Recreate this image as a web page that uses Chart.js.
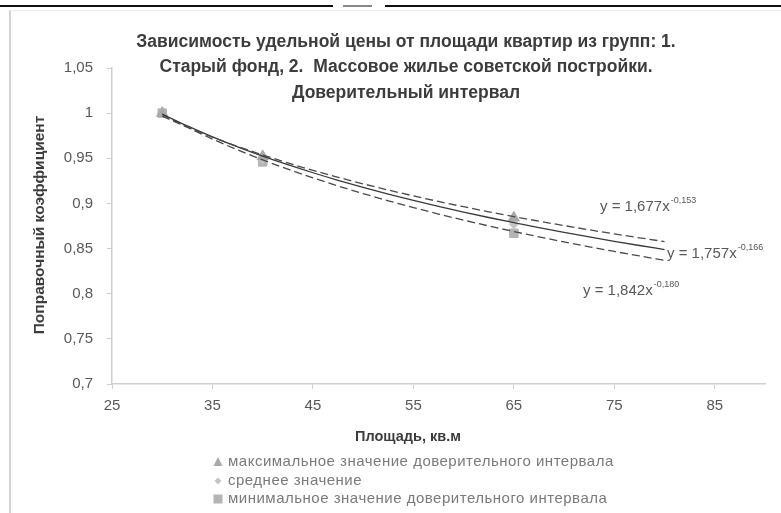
<!DOCTYPE html>
<html lang="ru">
<head>
<meta charset="utf-8">
<title>Поправочный коэффициент</title>
<script src="https://cdn.jsdelivr.net/npm/chart.js@4.4.1/dist/chart.umd.min.js"></script>
<style>
  html, body { margin: 0; padding: 0; background: #fff; }
  #wrap { position: relative; width: 781px; height: 513px; overflow: hidden; background: #fff; }
  #frame { position: absolute; left: 9px; top: 10px; width: 800px; height: 520px;
           border-left: 2px solid #d4d4d4; border-top: 1px solid #ececec; }
  .rule { position: absolute; top: 5px; height: 2px; background: #111; }
  canvas { position: absolute; left: 0; top: 0; }
</style>
</head>
<body>
<div id="wrap">
  <div class="rule" style="left:0;width:333px"></div>
  <div class="rule" style="left:343px;width:29px;background:#888"></div>
  <div class="rule" style="left:385px;width:396px"></div>
  <div id="frame"></div>
  <canvas id="c" width="781" height="513"></canvas>
</div>
<script>
// Площадь квартиры, кв.м
const areas = [30, 40, 65];
// Поправочный коэффициент по группам
const maxValues  = [1.000, 0.952, 0.884];
const meanValues = [1.000, 0.949, 0.877];
const minValues  = [1.000, 0.946, 0.867];

// Степенные линии тренда y = a·x^b (макс., среднее, мин.)
const trendA = [1.677, 1.757, 1.842];
const trendB = [-0.153, -0.166, -0.180];
const trendX = [30, 32.5, 35, 37.5, 40, 42.5, 45, 47.5, 50, 52.5, 55, 57.5, 60, 62.5, 65, 67.5, 70, 72.5, 75, 77.5, 80];

const xTickValues = [25, 35, 45, 55, 65, 75, 85];
const yTickValues = [0.7, 0.75, 0.8, 0.85, 0.9, 0.95, 1, 1.05];

const seriesNames = [
  'максимальное значение доверительного интервала',
  'среднее значение',
  'минимальное значение доверительного интервала'
];
const titleLines = [
  'Зависимость удельной цены от площади квартир из групп: 1.',
  'Старый фонд, 2.  Массовое жилье советской постройки.',
  'Доверительный интервал'
];
const xTitle = 'Площадь, кв.м';
const yTitle = 'Поправочный коэффициент';

const FONT = '"Liberation Sans", Arial, sans-serif';
const comma = v => String(Number(v.toFixed(3))).replace('.', ',');

const markerStyles = [
  { pointStyle: 'triangle', radius: 6.5, color: '#a9a9a9' },
  { pointStyle: 'rectRot',  radius: 4.5, color: '#c4c4c4' },
  { pointStyle: 'rect',     radius: 6,   color: '#b4b4b4' }
];
const seriesValues = [maxValues, meanValues, minValues];

const markerSets = seriesValues.map((vals, i) => ({
  label: seriesNames[i],
  data: areas.map((x, k) => ({ x, y: vals[k] })),
  pointStyle: markerStyles[i].pointStyle,
  pointRadius: markerStyles[i].radius,
  pointBackgroundColor: markerStyles[i].color,
  pointBorderColor: markerStyles[i].color,
  showLine: false,
  order: 2
}));

const trendSets = trendA.map((a, i) => ({
  label: 'trend ' + i,
  data: trendX.map(x => ({ x, y: a * Math.pow(x, trendB[i]) })),
  showLine: true,
  pointRadius: 0,
  borderColor: i === 1 ? '#3a3a3a' : '#4a4a4a',
  borderWidth: 1.3,
  borderDash: i === 1 ? [] : [8, 4],
  cubicInterpolationMode: 'monotone',
  order: 1
}));

// Заголовок, подписи осей, легенда и уравнения трендов
const chartText = {
  id: 'chartText',
  afterDraw(chart) {
    const ctx = chart.ctx;
    ctx.save();
    ctx.textBaseline = 'middle';

    ctx.fillStyle = '#3c3c3c';
    ctx.textAlign = 'center';
    ctx.font = 'bold 17.5px ' + FONT;
    titleLines.forEach((t, i) => ctx.fillText(t, 406, 42 + i * 25.5));

    ctx.font = 'bold 14.5px ' + FONT;
    ctx.fillText(xTitle, 408, 437);
    ctx.save();
    ctx.translate(40, 225);
    ctx.rotate(-Math.PI / 2);
    ctx.font = 'bold 15.5px ' + FONT;
    ctx.fillText(yTitle, 0, 0);
    ctx.restore();

    // легенда
    ctx.textAlign = 'left';
    ctx.font = '15px ' + FONT;
    if ('letterSpacing' in ctx) ctx.letterSpacing = '0.5px';
    const rows = [462, 481, 499];
    markerStyles.forEach((m, i) => {
      const cx = 218, cy = rows[i];
      ctx.fillStyle = m.color;
      ctx.beginPath();
      if (m.pointStyle === 'triangle') {
        ctx.moveTo(cx, cy - 5); ctx.lineTo(cx + 4.5, cy + 4); ctx.lineTo(cx - 4.5, cy + 4);
      } else if (m.pointStyle === 'rectRot') {
        ctx.moveTo(cx, cy - 3.5); ctx.lineTo(cx + 3.5, cy); ctx.lineTo(cx, cy + 3.5); ctx.lineTo(cx - 3.5, cy);
      } else {
        ctx.rect(cx - 4.5, cy - 4.5, 9, 9);
      }
      ctx.closePath();
      ctx.fill();
      ctx.fillStyle = '#7a7a7a';
      ctx.fillText(seriesNames[i], 228, cy);
    });
    if ('letterSpacing' in ctx) ctx.letterSpacing = '0px';

    // уравнения трендов
    const eqPos = [[600, 207], [667, 254], [583, 291]];
    trendA.forEach((a, i) => {
      const [x, y] = eqPos[i];
      const main = 'y = ' + a.toFixed(3).replace('.', ',') + 'x';
      const sup = trendB[i].toFixed(3).replace('.', ',');
      ctx.fillStyle = '#595959';
      ctx.font = '15px ' + FONT;
      ctx.fillText(main, x, y);
      const w = ctx.measureText(main).width;
      ctx.font = '9px ' + FONT;
      ctx.fillText(sup, x + w + 1, y - 6);
    });
    ctx.restore();
  }
};

new Chart(document.getElementById('c'), {
  type: 'scatter',
  data: { datasets: [...trendSets, ...markerSets] },
  options: {
    responsive: false,
    animation: false,
    layout: { padding: { top: 68, right: 16, bottom: 89, left: 0 } },
    plugins: { legend: { display: false }, tooltip: { enabled: false }, title: { display: false } },
    scales: {
      x: {
        type: 'linear', min: 25, max: 90,
        afterBuildTicks: s => { s.ticks = xTickValues.map(v => ({ value: v })); },
        afterFit: s => { s.height = 40; },
        grid: { drawOnChartArea: false, drawTicks: true, tickLength: 5, color: '#cfcfcf' },
        border: { display: true, color: '#cfcfcf', width: 1.5 },
        ticks: { padding: 8, color: '#595959', autoSkip: false, maxRotation: 0,
                 font: { family: FONT, size: 15 }, callback: v => comma(v) }
      },
      y: {
        type: 'linear', min: 0.7, max: 1.05,
        afterBuildTicks: s => { s.ticks = yTickValues.map(v => ({ value: v })); },
        afterFit: s => { s.width = 112; },
        grid: { drawOnChartArea: false, drawTicks: true, tickLength: 5, color: '#cfcfcf' },
        border: { display: true, color: '#cfcfcf', width: 1.5 },
        ticks: { padding: 14, color: '#595959', autoSkip: false,
                 font: { family: FONT, size: 15 }, callback: v => comma(v) }
      }
    }
  },
  plugins: [chartText]
});
</script>
</body>
</html>
